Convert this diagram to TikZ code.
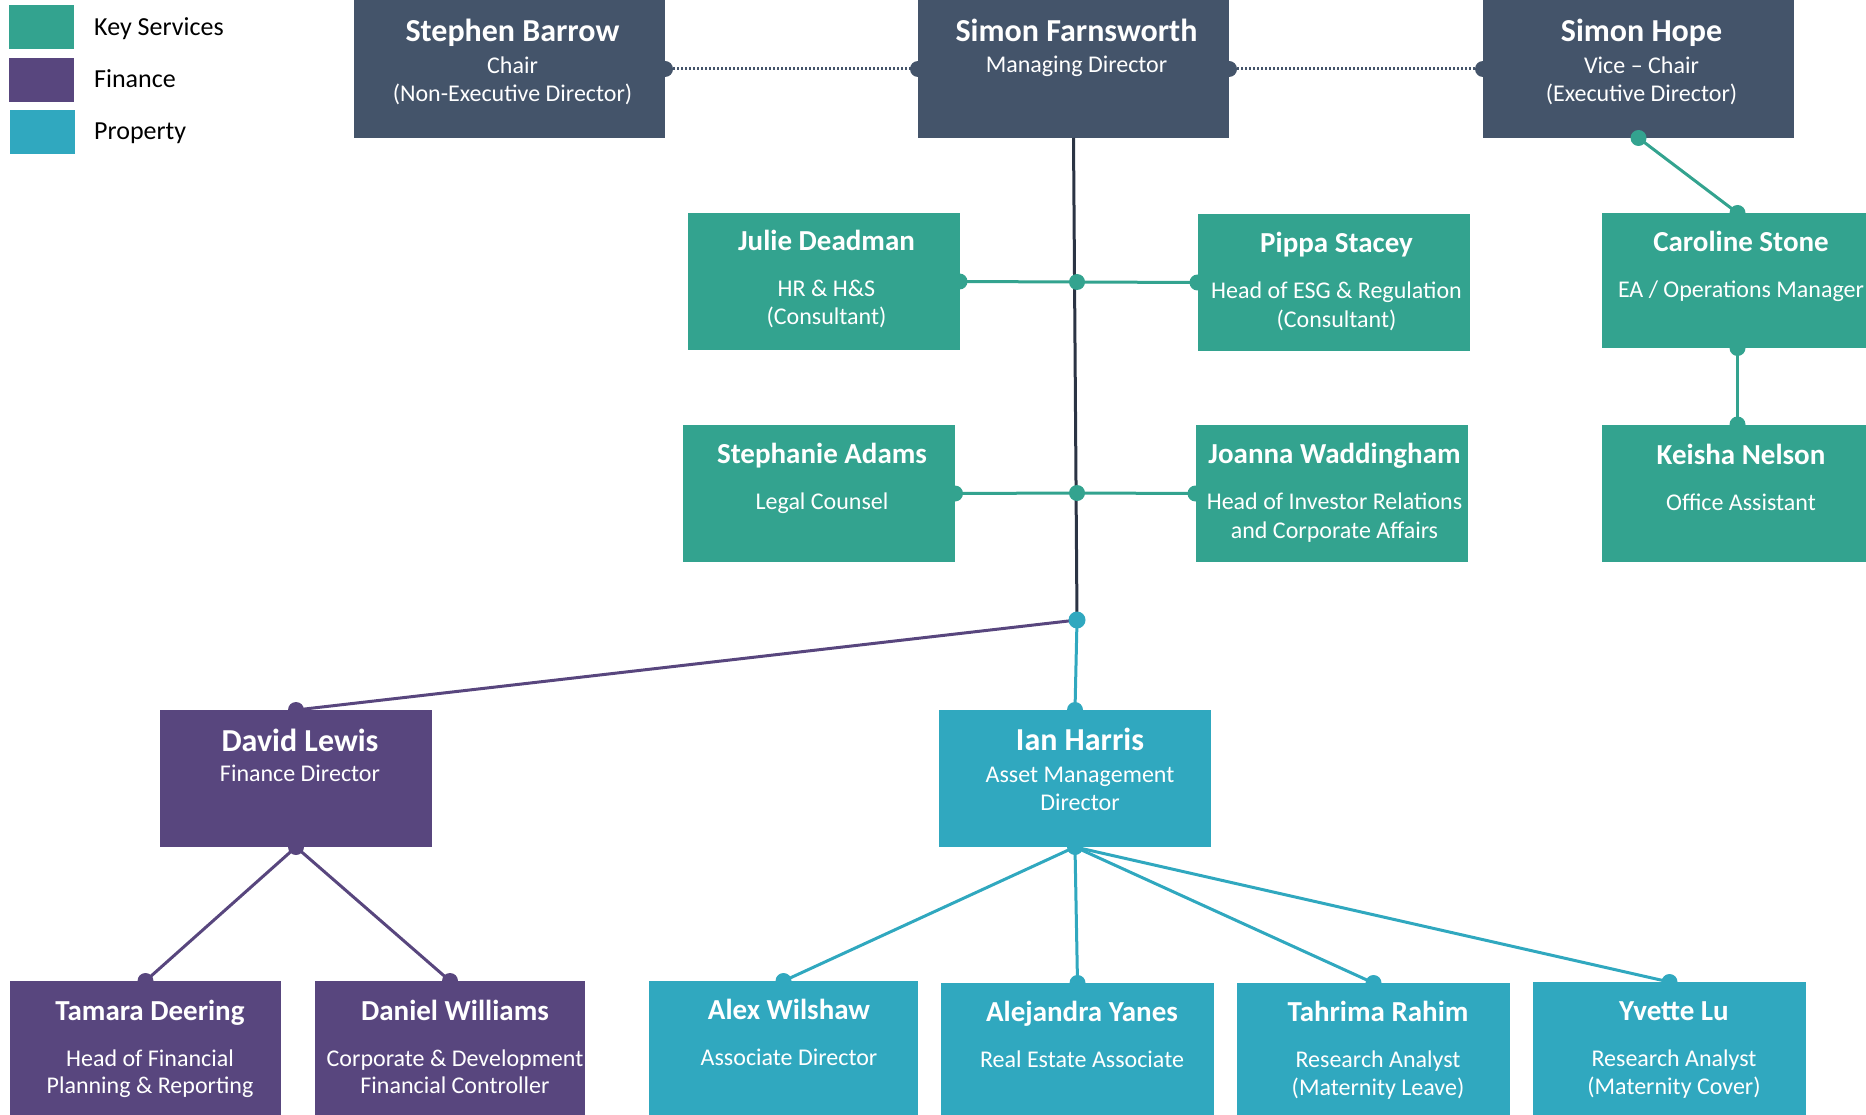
\documentclass[tikz,border=0pt]{standalone}
\usepackage{fontspec}
\setmainfont{Carlito}
\definecolor{slate}{HTML}{44546A}
\definecolor{ks}{HTML}{33A38F}
\definecolor{fin}{HTML}{58467E}
\definecolor{prop}{HTML}{30A8BF}
\definecolor{spine}{HTML}{2B3444}
\tikzset{
  box/.style={rectangle, inner sep=0pt, outer sep=0pt, minimum width=272pt, minimum height=137pt, draw=none},
  bigbox/.style={box, minimum width=311pt, minimum height=138pt},
  ttl/.style={anchor=base, inner sep=0pt, xshift=3pt, text=white, font=\fontsize{32}{38}\selectfont\bfseries},
  ttls/.style={anchor=base, inner sep=0pt, xshift=3pt, text=white, font=\fontsize{29}{35}\selectfont\bfseries},
  sub/.style={anchor=base, inner sep=0pt, xshift=3pt, text=white, font=\fontsize{24}{28}\selectfont},
  wire/.style={line width=3pt},
  dotline/.style={line width=3pt, dash pattern=on 2pt off 2pt},
  leg/.style={anchor=base west, inner sep=0pt, font=\fontsize{26}{31}\selectfont, text=black},
  legbox/.style={rectangle, inner sep=0pt, minimum width=65pt, minimum height=44pt, draw=none},
}
\begin{document}
\begin{tikzpicture}[x=1pt,y=-1pt]
\useasboundingbox (0,0) rectangle (1866,1115);
\clip (0,0) rectangle (1866,1115);

% legend
\node[legbox, fill=ks] (lg1) at (41.5,27) {};
\node[legbox, fill=fin] (lg2) at (41.5,80) {};
\node[legbox, fill=prop] (lg3) at (42.5,132) {};
\node[leg] (lt1) at (94,36) {Key Services};
\node[leg] (lt2) at (94,88) {Finance};
\node[leg] (lt3) at (94,140) {Property};

% boxes
\node[bigbox, fill=slate] (sb) at (509.5,69) {};
\node[bigbox, fill=slate] (sf) at (1073.5,69) {};
\node[bigbox, fill=slate] (sh) at (1638.5,69) {};

\node[box, fill=ks] (jd) at (823.5,281.5) {};
\node[box, fill=ks] (ps) at (1333.5,282.5) {};
\node[box, fill=ks] (sa) at (819,493.5) {};
\node[box, fill=ks] (jw) at (1331.5,493.5) {};
\node[box, fill=ks, minimum height=135pt] (cs) at (1737.5,280.5) {};
\node[box, fill=ks] (kn) at (1737.5,493) {};

\node[box, fill=fin] (dl) at (296,778.5) {};
\node[box, fill=fin, minimum width=271pt] (td) at (145.5,1049.5) {};
\node[box, fill=fin, minimum width=270pt] (dw) at (450,1049.5) {};

\node[box, fill=prop] (ih) at (1075,778.5) {};
\node[box, fill=prop, minimum width=269pt] (aw) at (783.5,1049.5) {};
\node[box, fill=prop, minimum width=273pt] (ay) at (1077.5,1051.5) {};
\node[box, fill=prop, minimum width=273pt] (tr) at (1373.5,1051.5) {};
\node[box, fill=prop, minimum width=273pt] (yl) at (1669.5,1050.5) {};

% junctions
\coordinate (jA) at (1077,282);
\coordinate (jB) at (1077,493);
\coordinate (jC) at (1077,620);

% connectors
\draw[dotline, slate] (sb.east) -- (sf.west);
\draw[dotline, slate] (sf.east) -- (sh.west);
\draw[wire, spine] (sf.south) -- (jC);
\draw[wire, ks] (jd.east) -- (jA) -- (ps.west);
\draw[wire, ks] (sa.east) -- (jB) -- (jw.west);
\draw[wire, ks] (sh.south) -- (cs.north);
\draw[wire, ks] (cs.south) -- (kn.north);
\draw[wire, fin] (jC) -- (dl.north);
\draw[wire, prop] (jC) -- (ih.north);
\draw[wire, fin] (dl.south) -- (td.north);
\draw[wire, fin] (dl.south) -- (dw.north);
\draw[wire, prop] (ih.south) -- (aw.north);
\draw[wire, prop] (ih.south) -- (ay.north);
\draw[wire, prop] (ih.south) -- (tr.north);
\draw[wire, prop] (ih.south) -- (yl.north);

% end dots
\foreach \p in {sb.east, sf.west, sf.east, sh.west} \fill[slate] (\p) circle (8pt);
\foreach \p in {jd.east, jA, ps.west, sa.east, jB, jw.west, sh.south, cs.north, cs.south, kn.north} \fill[ks] (\p) circle (8pt);
\foreach \p in {dl.north, dl.south, td.north, dw.north} \fill[fin] (\p) circle (8pt);
\foreach \p in {ih.north, ih.south, aw.north, ay.north, tr.north, yl.north} \fill[prop] (\p) circle (8pt);
\fill[prop] (jC) circle (8.5pt);

% texts: top row
\node[ttl] (sbt) at (509.5,42) {Stephen Barrow};
\node[sub] (sbs1) at (509.5,74) {Chair};
\node[sub] (sbs2) at (509.5,102) {(Non-Executive Director)};
\node[ttl] (sft) at (1073.5,42) {Simon Farnsworth};
\node[sub] (sfs1) at (1073.5,73) {Managing Director};
\node[ttl] (sht) at (1638.5,42) {Simon Hope};
\node[sub] (shs1) at (1638.5,74) {Vice – Chair};
\node[sub] (shs2) at (1638.5,102) {(Executive Director)};

% key services
\node[ttls] (jdt) at (823.5,251) {Julie Deadman};
\node[sub] (jds1) at (823.5,297) {HR \& H\&S};
\node[sub] (jds2) at (823.5,325) {(Consultant)};
\node[ttls] (pst) at (1333.5,253) {Pippa Stacey};
\node[sub] (pss1) at (1333.5,299) {Head of ESG \& Regulation};
\node[sub] (pss2) at (1333.5,327) {(Consultant)};
\node[ttls] (sat) at (819,463) {Stephanie Adams};
\node[sub] (sas1) at (819,509) {Legal Counsel};
\node[ttls] (jwt) at (1331.5,463) {Joanna Waddingham};
\node[sub] (jws1) at (1331.5,509) {Head of Investor Relations};
\node[sub] (jws2) at (1331.5,538) {and Corporate Affairs};
\node[ttls] (cst) at (1738,252) {Caroline Stone};
\node[sub] (css1) at (1738,298) {EA / Operations Manager};
\node[ttls] (knt) at (1738,464) {Keisha Nelson};
\node[sub] (kns1) at (1738,510) {Office Assistant};

% finance
\node[ttl] (dlt) at (297,751) {David Lewis};
\node[sub] (dls1) at (297,781) {Finance Director};
\node[ttls] (tdt) at (147,1020) {Tamara Deering};
\node[sub] (tds1) at (147,1066) {Head of Financial};
\node[sub] (tds2) at (147,1093) {Planning \& Reporting};
\node[ttls] (dwt) at (452,1020) {Daniel Williams};
\node[sub] (dws1) at (452,1066) {Corporate \& Development};
\node[sub] (dws2) at (452,1093) {Financial Controller};

% property
\node[ttl] (iht) at (1077,750) {Ian Harris};
\node[sub] (ihs1) at (1077,782) {Asset Management};
\node[sub] (ihs2) at (1077,810) {Director};
\node[ttls] (awt) at (786,1019) {Alex Wilshaw};
\node[sub] (aws1) at (786,1065) {Associate Director};
\node[ttls] (ayt) at (1079,1021) {Alejandra Yanes};
\node[sub] (ays1) at (1079,1067) {Real Estate Associate};
\node[ttls] (trt) at (1375,1021) {Tahrima Rahim};
\node[sub] (trs1) at (1375,1067) {Research Analyst};
\node[sub] (trs2) at (1375,1095) {(Maternity Leave)};
\node[ttls] (ylt) at (1671,1020) {Yvette Lu};
\node[sub] (yls1) at (1671,1066) {Research Analyst};
\node[sub] (yls2) at (1671,1094) {(Maternity Cover)};
\end{tikzpicture}
\end{document}
